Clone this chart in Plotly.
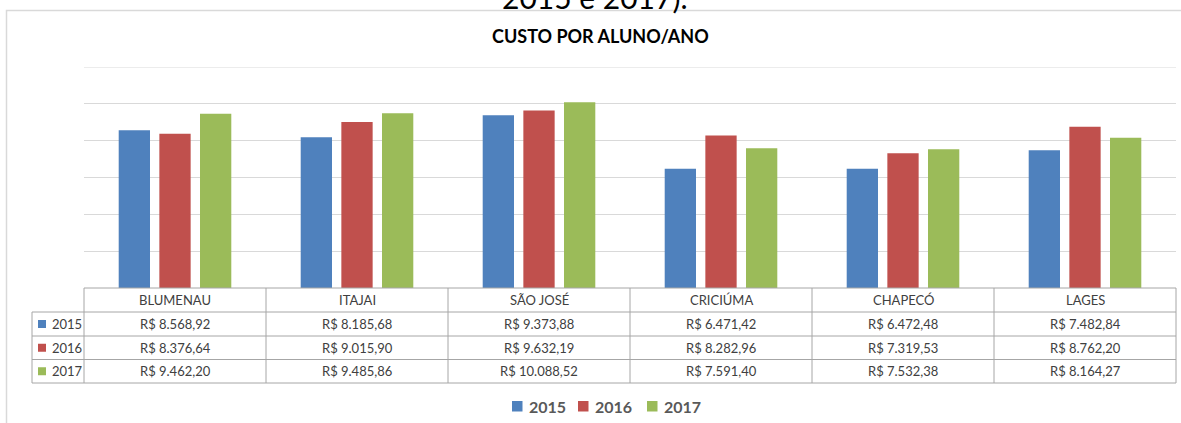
import plotly.graph_objects as go

categories = ["BLUMENAU", "ITAJAI", "SÃO JOSÉ", "CRICIÚMA", "CHAPECÓ", "LAGES"]
years = ["2015", "2016", "2017"]
v2015 = [8568.92, 8185.68, 9373.88, 6471.42, 6472.48, 7482.84]
v2016 = [8376.64, 9015.90, 9632.19, 8282.96, 7319.53, 8762.20]
v2017 = [9462.20, 9485.86, 10088.52, 7591.40, 7532.38, 8164.27]
colors = ["#4f81bd", "#c0504d", "#9bbb59"]
title = "CUSTO POR ALUNO/ANO"
top_text = "2015 e 2017)."
y_max = 12000

series = [v2015, v2016, v2017]

W, H = 1181, 423
L, R, T, B = 84, 1176, 67, 288


def X(px):
    return (px - L) / (R - L)


def Y(py):
    return (B - py) / (B - T)


def brl(v):
    s = f"{v:,.2f}".replace(",", "X").replace(".", ",").replace("X", ".")
    return "R$ " + s


fig = go.Figure()
for name, vals, c in zip(years, series, colors):
    fig.add_trace(go.Bar(x=categories, y=vals, name=name, marker_color=c,
                         marker_line_width=0, showlegend=False,
                         hoverinfo="x+y+name"))

shapes = []
annotations = []
line_c = "#a6a6a6"

# frame
shapes.append(dict(type="rect", xref="paper", yref="paper",
                   x0=X(6.5), x1=X(1190), y0=Y(430), y1=Y(10.5),
                   line=dict(color="#d9d9d9", width=1.5), layer="below"))
# top gridline (range max)
shapes.append(dict(type="line", xref="paper", yref="y",
                   x0=0, x1=1, y0=y_max, y1=y_max,
                   line=dict(color="#d9d9d9", width=1), layer="below"))

# table geometry
col_edges = [84, 266, 448, 630, 812, 994, 1176]
row_edges = [288, 312, 336, 359.5, 383]
label_left = 32

shapes.append(dict(type="line", xref="paper", yref="paper",
                   x0=X(84), x1=X(1176), y0=Y(288), y1=Y(288),
                   line=dict(color=line_c, width=1)))
for ry in row_edges[1:]:
    shapes.append(dict(type="line", xref="paper", yref="paper",
                       x0=X(label_left), x1=X(1176), y0=Y(ry), y1=Y(ry),
                       line=dict(color=line_c, width=1)))
for cx in col_edges:
    shapes.append(dict(type="line", xref="paper", yref="paper",
                       x0=X(cx), x1=X(cx), y0=Y(288), y1=Y(383),
                       line=dict(color=line_c, width=1)))
shapes.append(dict(type="line", xref="paper", yref="paper",
                   x0=X(label_left), x1=X(label_left), y0=Y(312), y1=Y(383),
                   line=dict(color=line_c, width=1)))

tfont = dict(family="Lato, Carlito, sans-serif", size=13, color="#404040")

hc = (row_edges[0] + row_edges[1]) / 2
for cat in categories:
    annotations.append(dict(x=cat, xref="x", y=Y(hc), yref="paper",
                            text=cat, showarrow=False, font=tfont,
                            xanchor="center", yanchor="middle"))

for i, (name, vals, c) in enumerate(zip(years, series, colors)):
    rc = (row_edges[i + 1] + row_edges[i + 2]) / 2
    for cat, v in zip(categories, vals):
        annotations.append(dict(x=cat, xref="x", y=Y(rc), yref="paper",
                                text=brl(v), showarrow=False, font=tfont,
                                xanchor="center", yanchor="middle"))
    shapes.append(dict(type="rect", xref="paper", yref="paper",
                       x0=X(38), x1=X(46), y0=Y(rc + 4), y1=Y(rc - 4),
                       fillcolor=c, line=dict(width=0)))
    annotations.append(dict(x=X(50), xref="paper", y=Y(rc), yref="paper",
                            text=name, showarrow=False, font=tfont,
                            xanchor="left", yanchor="middle"))

leg_sq = [512, 578, 647]
leg_y = 406
lfont = dict(family="Lato, Carlito, sans-serif", size=16, color="#595959")
for sx, name, c in zip(leg_sq, years, colors):
    shapes.append(dict(type="rect", xref="paper", yref="paper",
                       x0=X(sx), x1=X(sx + 10.5), y0=Y(leg_y + 5.5), y1=Y(leg_y - 5),
                       fillcolor=c, line=dict(width=0)))
    annotations.append(dict(x=X(sx + 15), xref="paper", y=Y(leg_y), yref="paper",
                            text="<b>" + name + "</b>", showarrow=False, font=lfont,
                            xanchor="left", yanchor="middle"))

annotations.append(dict(x=X(600), xref="paper", y=Y(36), yref="paper",
                        text="<b>" + title + "</b>", showarrow=False,
                        font=dict(family="Lato, Carlito, sans-serif", size=18, color="#000000"),
                        xanchor="center", yanchor="middle"))
annotations.append(dict(x=X(595), xref="paper", y=Y(-3), yref="paper",
                        text=top_text, showarrow=False,
                        font=dict(family="Lato, Carlito, sans-serif", size=30, color="#000000"),
                        xanchor="center", yanchor="middle"))

fig.update_layout(
    width=W, height=H,
    margin=dict(l=L, r=W - R, t=T, b=H - B, pad=0),
    paper_bgcolor="white", plot_bgcolor="white",
    barmode="group", bargap=0.33, bargroupgap=0.23,
    shapes=shapes, annotations=annotations,
    showlegend=False,
    xaxis=dict(showticklabels=False, showgrid=False, zeroline=False,
               showline=False, ticks="", fixedrange=True),
    yaxis=dict(range=[0, y_max], dtick=2000, showticklabels=False,
               showgrid=True, gridcolor="#d9d9d9", gridwidth=1,
               zeroline=False, showline=False, ticks="", fixedrange=True),
)

fig.write_html("out.html", config={"displayModeBar": False},
               post_script="document.body.style.margin='0';document.body.style.overflow='hidden';")
